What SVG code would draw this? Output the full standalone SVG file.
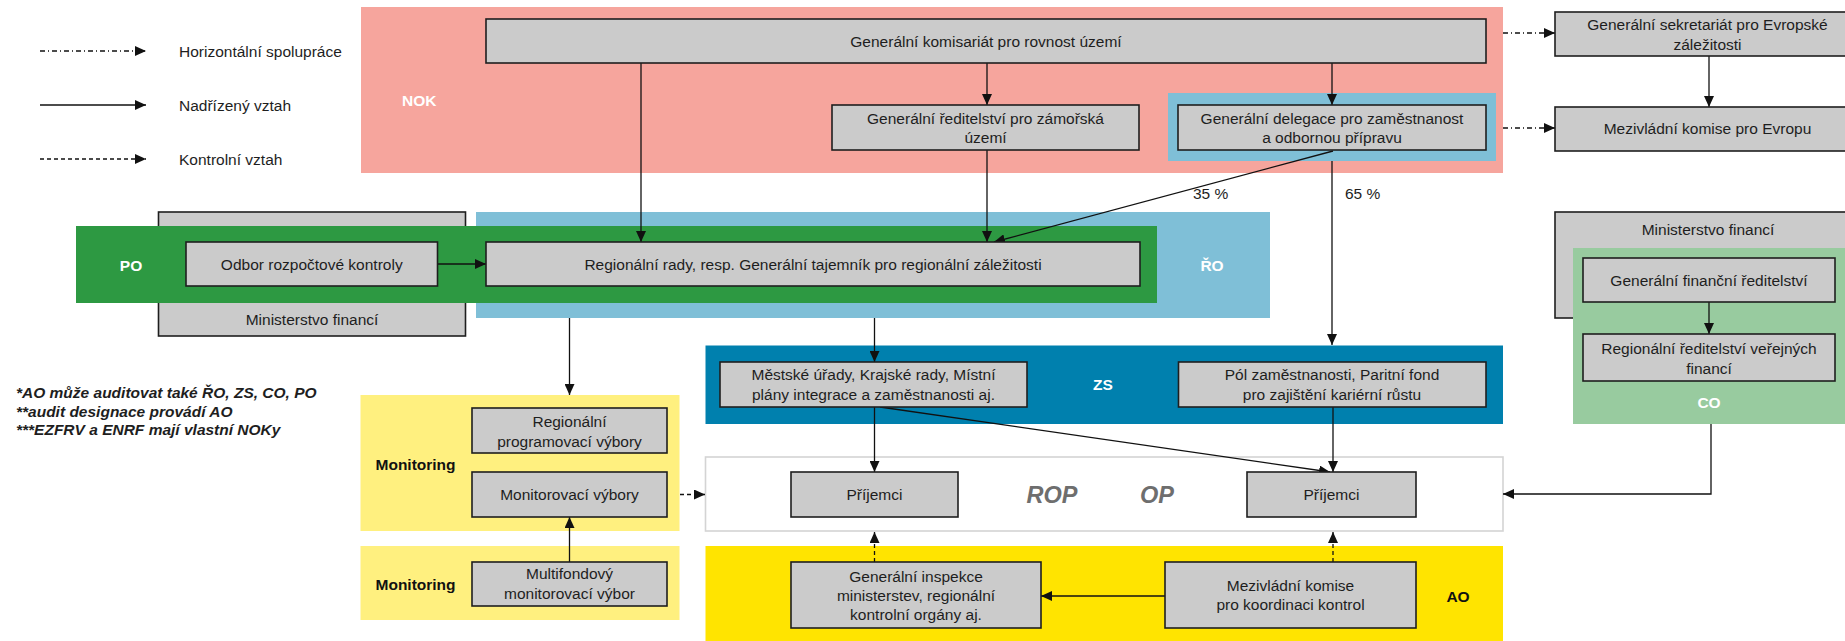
<svg xmlns="http://www.w3.org/2000/svg" width="1845" height="641" viewBox="0 0 1845 641">
<style>
text{font-family:"Liberation Sans",Arial,sans-serif;font-size:15.5px;fill:#1e1e1e}
.box{fill:#cbcbcb;stroke:#1e1e1e;stroke-width:1.6}
.c{text-anchor:middle}
.lbl{font-weight:bold;fill:#fff}
.blk{font-weight:bold;fill:#111}
.note{font-weight:bold;font-style:italic}
.big{font-weight:bold;font-style:italic;font-size:23.5px;fill:#6e6e6e;text-anchor:middle}
.ln{fill:none;stroke:#111;stroke-width:1.3}
.solid{marker-end:url(#ah)}
.dash{stroke-dasharray:4 3;marker-end:url(#ah)}
.dd{stroke-dasharray:5 3 1 3;marker-end:url(#ah)}
</style>
<defs>
<marker id="ah" markerUnits="userSpaceOnUse" markerWidth="11" markerHeight="10" refX="11" refY="5" orient="auto">
<path d="M0,0 L11,5 L0,10 z" fill="#111"/>
</marker>
</defs>
<rect width="1845" height="641" fill="#fff"/>

<g id="legend">
<line class="ln dd" x1="40" y1="51" x2="146" y2="51"/>
<line class="ln solid" x1="40" y1="105" x2="146" y2="105"/>
<line class="ln dash" x1="40" y1="159" x2="146" y2="159"/>
<text x="179" y="56.5">Horizontální spolupráce</text>
<text x="179" y="110.5">Nadřízený vztah</text>
<text x="179" y="164.5">Kontrolní vztah</text>
</g>

<g id="notes">
<text class="note" x="16" y="397.5">*AO může auditovat také ŘO, ZS, CO, PO</text>
<text class="note" x="16" y="416.5">**audit designace provádí AO</text>
<text class="note" x="16" y="434.5">***EZFRV a ENRF mají vlastní NOKy</text>
</g>

<g id="nok-zone">
<rect x="361" y="7" width="1142" height="166" fill="#f6a59d"/>
<text class="lbl" x="402" y="105.5">NOK</text>
</g>
<g id="delegace-bg"><rect x="1168" y="93" width="328" height="68" fill="#7fbfd7"/></g>

<g id="mf-left">
<rect class="box" x="158.5" y="212" width="307" height="124"/>
<text class="c" x="312" y="324.5">Ministerstvo financí</text>
</g>
<g id="ro-zone">
<rect x="476" y="212" width="794" height="106" fill="#7fbfd7"/>
<text class="lbl c" x="1212" y="270.5">ŘO</text>
</g>
<g id="po-zone">
<rect x="76" y="226" width="1081" height="77" fill="#2d9942"/>
<text class="lbl c" x="131" y="270.5">PO</text>
</g>

<g id="mf-right">
<rect class="box" x="1555" y="212" width="305" height="106"/>
<text class="c" x="1708" y="234.5">Ministerstvo financí</text>
</g>
<g id="co-zone">
<rect x="1573" y="248" width="290" height="176" fill="#98cb9f"/>
<text class="lbl c" x="1709" y="407.5">CO</text>
</g>

<g id="zs-zone">
<rect x="705.5" y="345.5" width="797.5" height="78.5" fill="#0080ae"/>
<text class="lbl c" x="1103" y="389.5">ZS</text>
</g>
<g id="op-zone">
<rect x="705.5" y="457" width="797.5" height="74" fill="#fff" stroke="#d4d4d4" stroke-width="1.6"/>
<text class="big" x="1052" y="503">ROP</text>
<text class="big" x="1157" y="503">OP</text>
</g>
<g id="ao-zone">
<rect x="705.5" y="546" width="797.5" height="95" fill="#ffe400"/>
<text class="blk c" x="1458" y="601.5">AO</text>
</g>
<g id="mon-zone-1">
<rect x="360.5" y="395" width="319" height="136" fill="#fff07f"/>
<text class="blk" x="375.5" y="469.5">Monitoring</text>
</g>
<g id="mon-zone-2">
<rect x="360.5" y="546" width="319" height="74" fill="#fff07f"/>
<text class="blk" x="375.5" y="589.5">Monitoring</text>
</g>

<g id="connectors">
<line class="ln solid" x1="641" y1="63" x2="641" y2="242"/>
<line class="ln solid" x1="987" y1="63" x2="987" y2="105"/>
<line class="ln solid" x1="1332" y1="63" x2="1332" y2="105"/>
<line class="ln solid" x1="987" y1="150" x2="987" y2="242"/>
<line class="ln solid" x1="1333" y1="151" x2="994" y2="242"/>
<line class="ln solid" x1="1332" y1="161" x2="1332" y2="345"/>
<line class="ln dd" x1="1503" y1="33" x2="1555" y2="33"/>
<line class="ln dd" x1="1503" y1="128" x2="1555" y2="128"/>
<line class="ln solid" x1="1709" y1="56" x2="1709" y2="107"/>
<line class="ln solid" x1="437.5" y1="264" x2="486" y2="264"/>
<line class="ln solid" x1="569.5" y1="318" x2="569.5" y2="395"/>
<line class="ln solid" x1="874.5" y1="318" x2="874.5" y2="362"/>
<line class="ln solid" x1="1709" y1="302" x2="1709" y2="334"/>
<line class="ln solid" x1="874.5" y1="407" x2="874.5" y2="472"/>
<line class="ln solid" x1="1333" y1="407" x2="1333" y2="472"/>
<line class="ln solid" x1="880" y1="407" x2="1330" y2="472"/>
<path class="ln solid" d="M1711,424 V494 H1503"/>
<line class="ln dash" x1="874.5" y1="562" x2="874.5" y2="532"/>
<line class="ln dash" x1="1333" y1="562" x2="1333" y2="532"/>
<line class="ln solid" x1="1165" y1="596" x2="1041" y2="596"/>
<line class="ln solid" x1="569.5" y1="562" x2="569.5" y2="517"/>
<line class="ln dash" x1="680" y1="494.5" x2="705" y2="494.5"/>
<text x="1193" y="199">35 %</text>
<text x="1345" y="199">65 %</text>
</g>

<g id="n-komisariat">
<rect class="box" x="486" y="19" width="1000" height="44"/>
<text class="c" x="986" y="46.5">Generální komisariát pro rovnost území</text>
</g>
<g id="n-zamorska">
<rect class="box" x="832" y="105" width="307" height="45"/>
<text class="c" x="985.5" y="123.5">Generální ředitelství pro zámořská</text>
<text class="c" x="985.5" y="143">území</text>
</g>
<g id="n-delegace">
<rect class="box" x="1178" y="105" width="308" height="45"/>
<text class="c" x="1332" y="123.5">Generální delegace pro zaměstnanost</text>
<text class="c" x="1332" y="143">a odbornou přípravu</text>
</g>
<g id="n-sekretariat">
<rect class="box" x="1555" y="12" width="305" height="44"/>
<text class="c" x="1707.5" y="29.5">Generální sekretariát pro Evropské</text>
<text class="c" x="1707.5" y="49.5">záležitosti</text>
</g>
<g id="n-mkevropa">
<rect class="box" x="1555" y="107" width="305" height="44"/>
<text class="c" x="1707.5" y="133.5">Mezivládní komise pro Evropu</text>
</g>
<g id="n-odbor">
<rect class="box" x="186" y="242" width="251.5" height="44"/>
<text class="c" x="311.75" y="269.5">Odbor rozpočtové kontroly</text>
</g>
<g id="n-regrady">
<rect class="box" x="486" y="242" width="654" height="44"/>
<text class="c" x="813" y="269.5">Regionální rady, resp. Generální tajemník pro regionální záležitosti</text>
</g>
<g id="n-gfr">
<rect class="box" x="1583" y="258" width="252" height="44"/>
<text class="c" x="1709" y="285.5">Generální finanční ředitelství</text>
</g>
<g id="n-rrvf">
<rect class="box" x="1583" y="334" width="252" height="47"/>
<text class="c" x="1709" y="353.5">Regionální ředitelství veřejných</text>
<text class="c" x="1709" y="373.5">financí</text>
</g>
<g id="n-mestske">
<rect class="box" x="720" y="362" width="307" height="45"/>
<text class="c" x="873.5" y="379.5">Městské úřady, Krajské rady, Místní</text>
<text class="c" x="873.5" y="399.5">plány integrace a zaměstnanosti aj.</text>
</g>
<g id="n-pol">
<rect class="box" x="1178.5" y="362" width="307.5" height="45"/>
<text class="c" x="1332" y="379.5">Pól zaměstnanosti, Paritní fond</text>
<text class="c" x="1332" y="399.5">pro zajištění kariérní růstu</text>
</g>
<g id="n-prijemci1">
<rect class="box" x="791" y="472" width="167" height="45"/>
<text class="c" x="874.5" y="500">Příjemci</text>
</g>
<g id="n-prijemci2">
<rect class="box" x="1247" y="472" width="169" height="45"/>
<text class="c" x="1331.5" y="500">Příjemci</text>
</g>
<g id="n-inspekce">
<rect class="box" x="791" y="562" width="250" height="66"/>
<text class="c" x="916" y="581.5">Generální inspekce</text>
<text class="c" x="916" y="600.5">ministerstev, regionální</text>
<text class="c" x="916" y="619.5">kontrolní orgány aj.</text>
</g>
<g id="n-mkkontrol">
<rect class="box" x="1165" y="562" width="251" height="66"/>
<text class="c" x="1290.5" y="590.5">Mezivládní komise</text>
<text class="c" x="1290.5" y="609.5">pro koordinaci kontrol</text>
</g>
<g id="n-rpv">
<rect class="box" x="472" y="408" width="195" height="45"/>
<text class="c" x="569.5" y="427">Regionální</text>
<text class="c" x="569.5" y="447">programovací výbory</text>
</g>
<g id="n-mv">
<rect class="box" x="472" y="472" width="195" height="45"/>
<text class="c" x="569.5" y="500">Monitorovací výbory</text>
</g>
<g id="n-mmv">
<rect class="box" x="472" y="562" width="195" height="44"/>
<text class="c" x="569.5" y="578.5">Multifondový</text>
<text class="c" x="569.5" y="598.5">monitorovací výbor</text>
</g>
</svg>
